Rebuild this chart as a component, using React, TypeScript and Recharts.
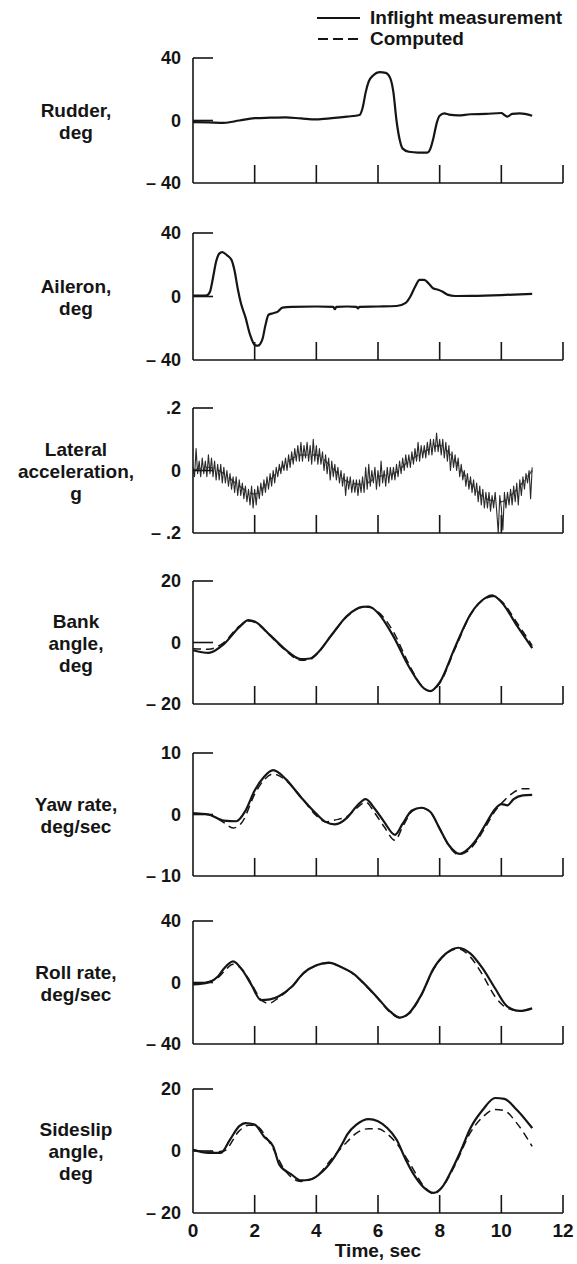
import React from 'react';
import { LineChart, Line, XAxis, YAxis } from 'recharts';

const FONT = '"Liberation Sans", Arial, Helvetica, sans-serif';
const INK = '#151515';

// ---------- data ----------
const TIME_TICKS = [0, 2, 4, 6, 8, 10, 12];

const rudderMeasured = [
  [0, -1], [0.5, -1.2], [1.0, -1.5], [1.5, 0], [2.0, 1.5], [2.5, 1.8], [3.0, 2], [3.5, 1.3],
  [4.0, 0.7], [4.5, 1.5], [5.0, 2.5], [5.4, 3.5], [5.5, 8], [5.6, 18], [5.7, 25], [5.85, 29],
  [6.05, 31], [6.25, 30.5], [6.4, 27], [6.5, 18], [6.6, 0], [6.7, -12], [6.8, -18], [7.0, -20],
  [7.3, -20.5], [7.6, -20.5], [7.7, -18], [7.8, -11], [7.9, -2], [8.0, 3], [8.15, 4.5],
  [8.3, 3.8], [8.6, 3.3], [9.0, 4], [9.5, 4.2], [10.0, 4.8], [10.1, 3.5], [10.2, 2.5],
  [10.35, 4.2], [10.6, 4.5], [11.0, 3],
];

const aileronMeasured = [
  [0, 0.5], [0.45, 0.8], [0.55, 3], [0.65, 12], [0.75, 22], [0.85, 27], [0.95, 28], [1.1, 26],
  [1.25, 23], [1.35, 16], [1.45, 5], [1.55, -4], [1.7, -13], [1.85, -24], [2.0, -30.5],
  [2.1, -31], [2.25, -27], [2.35, -18], [2.45, -11.5], [2.6, -10.5], [2.75, -9.5], [2.9, -7],
  [3.2, -6.5], [4.0, -6.3], [4.55, -6.5], [4.6, -8], [4.65, -6.5], [5.0, -6.3], [5.3, -6.5],
  [5.35, -7.5], [5.4, -6.5], [6.0, -6.3], [6.6, -6], [6.9, -4], [7.05, 0], [7.2, 6],
  [7.35, 10.5], [7.5, 10.5], [7.65, 8], [7.8, 5], [7.95, 4.3], [8.1, 3], [8.25, 1.2],
  [8.5, 0.3], [9.0, 0.4], [10.0, 0.9], [11.0, 1.7],
];

// lateral acceleration, sampled every 0.05 s from t = 0 to 11 s (one row = 0.5 s)
const LAT_STEP_HUNDREDTHS = 5;
const latMeasuredValues = [
  0.01, -0.02, 0.07, -0.01, 0.03, -0.02, 0.04, -0.01, 0.03, -0.02,
  0.05, -0.01, 0.04, -0.02, 0.03, -0.03, 0.02, -0.03, 0.02, -0.04,
  0.01, -0.04, 0.00, -0.05, -0.01, -0.06, -0.02, -0.07, -0.02, -0.08,
  -0.03, -0.08, -0.04, -0.09, -0.05, -0.10, -0.06, -0.11, -0.05, -0.12,
  -0.06, -0.11, -0.05, -0.09, -0.04, -0.08, -0.03, -0.07, -0.02, -0.06,
  -0.01, -0.05, 0.00, -0.04, 0.01, -0.02, 0.02, -0.01, 0.03, 0.00,
  0.04, 0.00, 0.05, 0.01, 0.06, 0.02, 0.07, 0.03, 0.08, 0.03,
  0.09, 0.03, 0.08, 0.04, 0.09, 0.03, 0.08, 0.02, 0.10, 0.03,
  0.08, 0.02, 0.07, 0.02, 0.06, 0.00, 0.05, -0.01, 0.04, -0.03,
  0.03, -0.02, 0.02, -0.03, 0.01, -0.04, 0.00, -0.05, -0.01, -0.08,
  -0.02, -0.06, -0.02, -0.07, -0.03, -0.07, -0.03, -0.08, -0.03, -0.07,
  -0.02, -0.07, 0.01, -0.06, 0.02, -0.05, 0.00, -0.04, 0.01, -0.06,
  0.00, -0.05, 0.03, -0.04, 0.00, -0.05, 0.01, -0.04, 0.01, -0.03,
  0.01, -0.03, 0.02, -0.02, 0.03, -0.01, 0.04, 0.00, 0.05, 0.01,
  0.05, 0.01, 0.06, 0.02, 0.07, 0.03, 0.09, 0.03, 0.08, 0.04,
  0.08, 0.04, 0.09, 0.05, 0.10, 0.05, 0.10, 0.06, 0.12, 0.06,
  0.10, 0.05, 0.10, 0.04, 0.09, 0.03, 0.08, 0.00, 0.06, 0.01,
  0.05, 0.00, 0.04, -0.02, 0.02, -0.03, 0.00, -0.05, -0.01, -0.06,
  -0.02, -0.07, -0.03, -0.08, -0.04, -0.10, -0.05, -0.11, -0.06, -0.12,
  -0.07, -0.12, -0.07, -0.13, -0.08, -0.12, -0.07, -0.13, -0.20, -0.08,
  -0.12, -0.19, -0.07, -0.12, -0.07, -0.11, -0.06, -0.11, -0.05, -0.10,
  -0.04, -0.11, -0.03, -0.08, -0.02, -0.06, -0.01, -0.04, 0.00, -0.09,
  0.01,
];
const latComputed = [
  [0, 0], [0.5, 0.01], [1, -0.01], [1.5, -0.05], [2, -0.075], [2.5, -0.03], [3, 0.02],
  [3.5, 0.05], [4, 0.05], [4.5, 0.01], [5, -0.035], [5.5, -0.045], [6, -0.02], [6.5, -0.01],
  [7, 0.03], [7.5, 0.06], [8, 0.08], [8.5, 0.03], [9, -0.04], [9.5, -0.09], [10, -0.1],
  [10.5, -0.06], [11, 0],
];

const bankMeasured = [
  [0, -2.5], [0.5, -3.4], [1, -0.5], [1.5, 5.0], [1.8, 7.3], [2, 6.8], [2.5, 2.4], [3, -2.3],
  [3.5, -5.4], [3.8, -5.2], [4, -3.8], [4.5, 2.5], [5, 8.7], [5.5, 11.6], [5.7, 11.7],
  [6, 9.6], [6.5, 2.0], [7, -7.8], [7.5, -15.0], [7.7, -15.8], [8, -13], [8.5, -1.5],
  [9, 9.2], [9.5, 14.6], [9.7, 15.3], [10, 13.2], [10.5, 5.6], [11, -1.8],
];
const bankComputed = [
  [0, -2.0], [0.5, -2.2], [1, 0], [1.5, 5.3], [1.8, 7.0], [2, 6.6], [2.5, 2.2], [3, -2.6],
  [3.5, -5.8], [3.8, -5.5], [4, -4], [4.5, 2.5], [5, 8.5], [5.5, 11.5], [5.7, 11.5],
  [6, 10], [6.5, 3.5], [7, -7], [7.5, -15], [7.7, -15.8], [8, -13.3], [8.5, -2], [9, 9],
  [9.5, 14.4], [9.7, 15.0], [10, 13.5], [10.5, 6.5], [11, -1],
];

const yawMeasured = [
  [0, 0.2], [0.5, 0], [1, -1], [1.4, -1.1], [1.7, 0.6], [2, 3.9], [2.3, 6.1], [2.6, 7.2],
  [3, 5.8], [3.5, 2.8], [4, 0.1], [4.3, -1.2], [4.6, -1.6], [5, -0.5], [5.3, 1.3],
  [5.6, 2.5], [5.9, 0.9], [6.2, -1.2], [6.55, -3.3], [6.8, -1.5], [7.1, 0.65], [7.4, 1.1],
  [7.7, 0.4], [8, -2.3], [8.3, -5.0], [8.65, -6.4], [8.9, -5.7], [9.2, -4.0], [9.5, -1.5],
  [9.8, 0.9], [10, 1.7], [10.2, 1.5], [10.4, 2.5], [10.7, 3.1], [11, 3.2],
];
const yawComputed = [
  [0, 0.2], [0.5, 0], [1, -1.3], [1.3, -2.2], [1.6, -1.2], [2, 3.3], [2.3, 5.6], [2.6, 6.6],
  [3, 5.6], [3.5, 2.9], [4, -0.2], [4.3, -1.2], [4.6, -0.9], [5, -0.3], [5.3, 1.0],
  [5.6, 2.0], [5.9, 0.2], [6.2, -2.0], [6.55, -4.2], [6.8, -2.0], [7.1, 0.5], [7.4, 1.1],
  [7.7, 0.4], [8, -2.3], [8.3, -5.1], [8.6, -6.5], [8.9, -6.0], [9.2, -4.3], [9.5, -1.9],
  [9.8, 0.6], [10.1, 2.3], [10.4, 3.6], [10.7, 4.2], [11, 4.2],
];

const rollMeasured = [
  [0, -1.3], [0.5, 0], [0.8, 3.7], [1, 9], [1.3, 13.8], [1.6, 8], [1.9, -1.7], [2.2, -11.4],
  [2.5, -11], [2.8, -8.8], [3.2, -2.8], [3.6, 6.5], [4, 11.2], [4.4, 12.9], [4.8, 10.1],
  [5.2, 5.8], [5.6, -1.7], [6, -10.3], [6.4, -19], [6.7, -22.8], [7, -20], [7.4, -8.2],
  [7.8, 9], [8.2, 18.8], [8.6, 22.6], [9, 18.8], [9.4, 9], [9.8, -3.9], [10.2, -15.7],
  [10.6, -18.5], [11, -16.8],
];
const rollComputed = [
  [0, -1], [0.5, 0.5], [0.8, 3], [1, 7], [1.3, 11.8], [1.6, 8.5], [1.9, -1], [2.2, -11],
  [2.45, -13.6], [2.8, -9.5], [3.2, -3], [3.6, 6], [4, 11], [4.4, 12.6], [4.8, 10.2],
  [5.2, 5.5], [5.6, -2], [6, -10.5], [6.4, -19.5], [6.7, -23], [7, -20.5], [7.4, -8.5],
  [7.8, 8.5], [8.2, 18.5], [8.6, 22], [9, 16.5], [9.4, 4.7], [9.8, -9.3], [10.2, -16.8],
  [10.6, -18.5], [11, -16.8],
];

const sideslipMeasured = [
  [0, 0.4], [0.5, -0.6], [0.9, -0.6], [1.2, 3.7], [1.5, 8], [1.7, 9], [2, 8.5], [2.3, 4.7],
  [2.6, 1.5], [2.8, -4.4], [3.2, -7.6], [3.5, -9.5], [3.8, -9.2], [4.2, -6.6], [4.6, -1.7],
  [4.85, 2.5], [5, 5.3], [5.3, 8.5], [5.7, 10.3], [6, 9.6], [6.3, 7.4], [6.6, 3.7],
  [6.9, -2.8], [7.2, -8.2], [7.5, -11.9], [7.8, -13.5], [8.1, -11.4], [8.4, -6], [8.7, 0.4],
  [9, 7.4], [9.4, 13.3], [9.8, 17.1], [10.1, 16.8], [10.5, 13.3], [11, 7.4],
];
const sideslipComputed = [
  [0, 0.4], [0.5, -0.4], [1, 0], [1.5, 6.5], [1.8, 8.3], [2, 8.3], [2.5, 2.5], [3, -6.5],
  [3.5, -9.8], [4, -8.2], [4.5, -2.5], [5, 3.0], [5.3, 5.8], [5.7, 7.2], [6, 7.2], [6.3, 5.5],
  [6.6, 2.5], [7, -3.5], [7.5, -11.5], [7.8, -13.8], [8.1, -11.5], [8.5, -4.5], [9, 6],
  [9.4, 11], [9.8, 13.4], [10.1, 13], [10.5, 9], [11, 1.5],
];

// ---------- helpers ----------
type Pt = { t: number; v: number };
const toPts = (arr: number[][]): Pt[] => arr.map(([t, v]) => ({ t, v }));
const latMeasured: Pt[] = latMeasuredValues.map((v, i) => ({ t: (i * LAT_STEP_HUNDREDTHS) / 100, v }));

type PanelCfg = {
  label: string[];
  ticks: number[];
  tickLabels: string[];
  top: number;
  bottom: number;
  measured: Pt[];
  computed: Pt[] | null;
  noisy?: boolean;
};

const PANELS: PanelCfg[] = [
  { label: ['Rudder,', 'deg'], ticks: [-40, 0, 40], tickLabels: ['\u2013 40', '0', '40'], top: 58, bottom: 183, measured: toPts(rudderMeasured), computed: null },
  { label: ['Aileron,', 'deg'], ticks: [-40, 0, 40], tickLabels: ['\u2013 40', '0', '40'], top: 233, bottom: 360, measured: toPts(aileronMeasured), computed: null },
  { label: ['Lateral', 'acceleration,', 'g'], ticks: [-0.2, 0, 0.2], tickLabels: ['\u2013 .2', '0', '.2'], top: 408, bottom: 533, measured: latMeasured, computed: toPts(latComputed), noisy: true },
  { label: ['Bank', 'angle,', 'deg'], ticks: [-20, 0, 20], tickLabels: ['\u2013 20', '0', '20'], top: 581, bottom: 704, measured: toPts(bankMeasured), computed: toPts(bankComputed) },
  { label: ['Yaw rate,', 'deg/sec'], ticks: [-10, 0, 10], tickLabels: ['\u2013 10', '0', '10'], top: 753, bottom: 876, measured: toPts(yawMeasured), computed: toPts(yawComputed) },
  { label: ['Roll rate,', 'deg/sec'], ticks: [-40, 0, 40], tickLabels: ['\u2013 40', '0', '40'], top: 921, bottom: 1044, measured: toPts(rollMeasured), computed: toPts(rollComputed) },
  { label: ['Sideslip', 'angle,', 'deg'], ticks: [-20, 0, 20], tickLabels: ['\u2013 20', '0', '20'], top: 1089, bottom: 1213, measured: toPts(sideslipMeasured), computed: toPts(sideslipComputed) },
];

const textStyle = { fontFamily: FONT, fontWeight: 700, fill: INK } as const;

const XTick = (props: any) => {
  const { x, y, payload, showLabel } = props;
  const v = payload.value;
  return (
    <g>
      {v > 0 && <line x1={x} x2={x} y1={y} y2={y - 18} stroke={INK} strokeWidth={1.6} />}
      {showLabel && (
        <text x={x} y={y + 24} textAnchor="middle" fontSize={19} style={textStyle}>
          {v}
        </text>
      )}
    </g>
  );
};

const YTick = (props: any) => {
  const { x, y, payload, ticks, tickLabels } = props;
  const idx = ticks.indexOf(payload.value);
  return (
    <g>
      {idx > 0 && <line x1={x} x2={x + 20} y1={y} y2={y} stroke={INK} strokeWidth={1.6} />}
      <text x={x - 12} y={y} dy="0.36em" textAnchor="end" fontSize={18} style={textStyle}>
        {tickLabels[idx]}
      </text>
    </g>
  );
};

function Panel({ cfg, last }: { cfg: PanelCfg; last: boolean }) {
  const mt = 12;
  const xh = last ? 50 : 16;
  const h = cfg.bottom - cfg.top + mt + xh;
  const zeroY = (cfg.top + cfg.bottom) / 2;
  const n = cfg.label.length;
  return (
    <>
      <div style={{ position: 'absolute', left: 0, top: cfg.top - mt }}>
        <LineChart width={577} height={h} margin={{ top: mt, right: 14, bottom: 0, left: 0 }}>
          <XAxis
            type="number"
            dataKey="t"
            domain={[0, 12]}
            ticks={TIME_TICKS}
            interval={0}
            height={xh}
            tickSize={0}
            tickMargin={0}
            tickLine={false}
            allowDataOverflow
            axisLine={{ stroke: INK, strokeWidth: 1.6 }}
            tick={(p: any) => <XTick {...p} showLabel={last} />}
          />
          <YAxis
            type="number"
            domain={[cfg.ticks[0], cfg.ticks[2]]}
            ticks={cfg.ticks}
            interval={0}
            width={193}
            tickSize={0}
            tickMargin={0}
            tickLine={false}
            allowDataOverflow
            axisLine={{ stroke: INK, strokeWidth: 1.6 }}
            tick={(p: any) => <YTick {...p} ticks={cfg.ticks} tickLabels={cfg.tickLabels} />}
          />
          {cfg.computed && (
            <Line
              data={cfg.computed}
              dataKey="v"
              type="monotone"
              stroke={cfg.noisy ? '#555' : INK}
              strokeWidth={1.5}
              strokeDasharray="8 5"
              dot={false}
              isAnimationActive={false}
            />
          )}
          <Line
            data={cfg.measured}
            dataKey="v"
            type={cfg.noisy ? 'linear' : 'monotone'}
            stroke={cfg.noisy ? '#2a2a2a' : INK}
            strokeWidth={cfg.noisy ? 1.1 : 2.2}
            strokeLinejoin="round"
            dot={false}
            isAnimationActive={false}
          />
        </LineChart>
      </div>
      <div
        style={{
          position: 'absolute',
          left: 0,
          width: 152,
          top: zeroY - 11 * n + 1,
          textAlign: 'center',
          fontFamily: FONT,
          fontWeight: 700,
          fontSize: 19,
          lineHeight: '22px',
          color: INK,
        }}
      >
        {cfg.label.map((l) => (
          <div key={l}>{l}</div>
        ))}
      </div>
      {last && (
        <div
          style={{
            position: 'absolute',
            left: 193,
            width: 370,
            top: 1240,
            textAlign: 'center',
            fontFamily: FONT,
            fontWeight: 700,
            fontSize: 19,
            lineHeight: '22px',
            color: INK,
          }}
        >
          Time, sec
        </div>
      )}
    </>
  );
}

function Legend() {
  return (
    <svg width={577} height={52} style={{ position: 'absolute', left: 0, top: 0 }}>
      <line x1={317} x2={360} y1={18} y2={18} stroke={INK} strokeWidth={2} />
      <line x1={318} x2={360} y1={39} y2={39} stroke={INK} strokeWidth={2} strokeDasharray="10 5" />
      <text x={370} y={24} fontSize={19} style={textStyle}>Inflight measurement</text>
      <text x={370} y={45} fontSize={19} style={textStyle}>Computed</text>
    </svg>
  );
}

export default function App() {
  return (
    <div
      style={{
        position: 'absolute',
        left: 0,
        top: 0,
        width: 577,
        height: 1264,
        background: '#fff',
        overflow: 'hidden',
      }}
    >
      <Legend />
      {PANELS.map((cfg, i) => (
        <Panel key={i} cfg={cfg} last={i === PANELS.length - 1} />
      ))}
    </div>
  );
}
